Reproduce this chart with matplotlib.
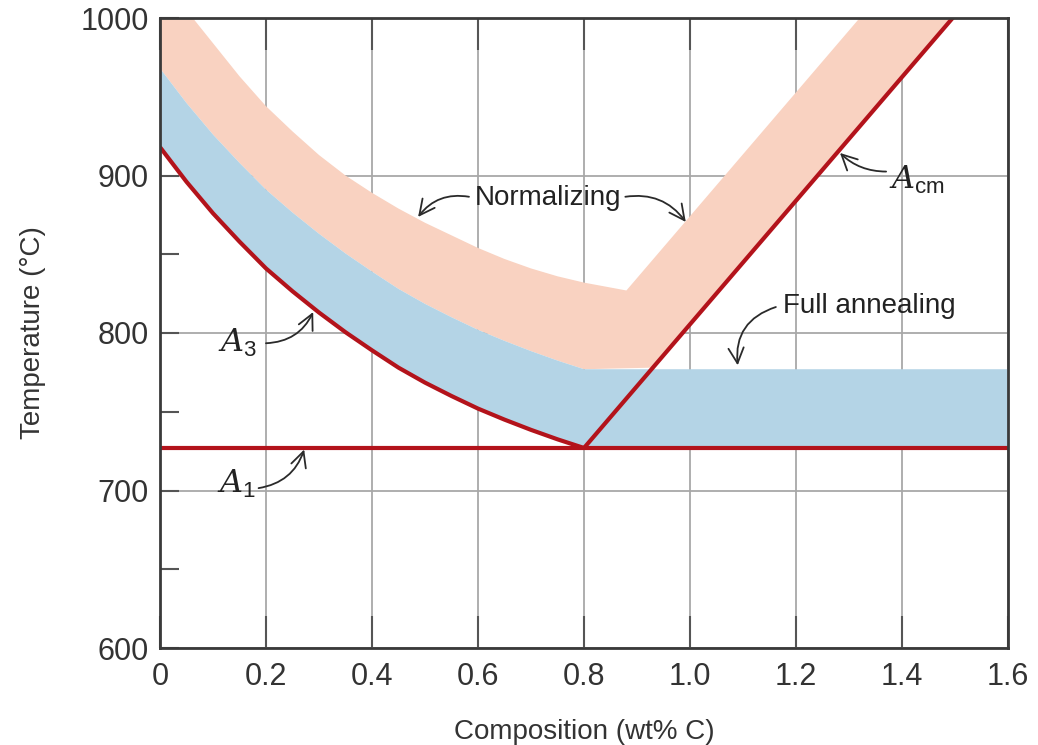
import numpy as np
import matplotlib
matplotlib.use("Agg")
import matplotlib.pyplot as plt
from matplotlib.ticker import MultipleLocator

# ---------------- data ----------------
# A3 line (wt% C, deg C)
a3_x = [0.0, 0.05, 0.1, 0.15, 0.2, 0.25, 0.3, 0.35, 0.4, 0.45, 0.5, 0.55, 0.6, 0.65, 0.7, 0.75, 0.8]
a3_T = [918, 896, 876, 858, 841, 826.5, 813, 800.5, 789, 778, 768.5, 760, 752, 745, 738.5, 732.5, 727]
# upper edge of full-annealing band (left part)
full_top_T = [968, 946, 926, 908, 891, 876.5, 863, 850.5, 839, 828, 818.5, 810, 802, 795, 788.5, 782.5, 777]
# full annealing band on the right (x, lower T, upper T)
full_right_x = [0.8, 1.6]
full_right_low = [727, 727]
full_right_high = [777, 777]
# A1 line
a1_x = [0.0, 1.6]
a1_T = [727, 727]
# Acm line
acm_x = [0.8, 1.6]
acm_T = [727, 1041]
# upper edge of normalizing band
norm_top_x = [0.0, 0.05, 0.1, 0.15, 0.2, 0.25, 0.3, 0.35, 0.4, 0.45, 0.5, 0.55, 0.6, 0.65, 0.7, 0.75, 0.8, 0.88, 1.6]
norm_top_T = [1028, 1005, 984, 963, 944, 928, 913, 900, 889, 879, 870, 862, 854, 847, 841, 836, 832, 827, 1110]
# lower edge of normalizing band on the right
norm_low_right_x = [0.8, 0.93, 1.6]
norm_low_right_T = [777, 778, 1041]

x_ticks = [0, 0.2, 0.4, 0.6, 0.8, 1.0, 1.2, 1.4, 1.6]
x_tick_labels = ["0", "0.2", "0.4", "0.6", "0.8", "1.0", "1.2", "1.4", "1.6"]
y_ticks = [600, 700, 800, 900, 1000]
y_tick_labels = ["600", "700", "800", "900", "1000"]

# ---------------- style ----------------
plt.rcParams['font.family'] = ['Liberation Sans', 'DejaVu Sans']
plt.rcParams['mathtext.fontset'] = 'custom'
plt.rcParams['mathtext.it'] = 'DejaVu Serif:italic'
plt.rcParams['mathtext.rm'] = 'Liberation Sans'
plt.rcParams['mathtext.default'] = 'it'

PINK = '#F9D2C1'
BLUE = '#B4D4E6'
RED = '#B3131B'
GRID = '#A8A8A8'
DARK = '#3A3A3A'

fig = plt.figure(figsize=(10.38, 7.45), dpi=100)
ax = fig.add_axes([160/1038, 1-648/745, 848/1038, 630/745])

# normalizing band (pink)
pink_top_x = np.array(norm_top_x)
pink_top_y = np.array(norm_top_T)
pink_low_x = np.concatenate([a3_x, norm_low_right_x[1:]])
pink_low_y = np.concatenate([full_top_T, norm_low_right_T[1:]])
ax.fill(np.concatenate([pink_top_x, pink_low_x[::-1]]),
        np.concatenate([pink_top_y, pink_low_y[::-1]]),
        color=PINK, lw=0, zorder=1)

# full annealing band (blue)
blue_top_x = np.concatenate([a3_x, full_right_x[1:]])
blue_top_y = np.concatenate([full_top_T, full_right_high[1:]])
blue_low_x = np.concatenate([a3_x, full_right_x[1:]])
blue_low_y = np.concatenate([a3_T, full_right_low[1:]])
ax.fill(np.concatenate([blue_top_x, blue_low_x[::-1]]),
        np.concatenate([blue_top_y, blue_low_y[::-1]]),
        color=BLUE, lw=0, zorder=1)

# lines
line_kw = dict(color=RED, lw=3, zorder=3, solid_capstyle='butt', solid_joinstyle='round')
ax.plot(a3_x, a3_T, **line_kw)
ax.plot(a1_x, a1_T, **line_kw)
ax.plot(acm_x, acm_T, **line_kw)

ax.set_xlim(0, 1.6)
ax.set_ylim(600, 1000)
ax.set_xticks(x_ticks)
ax.set_xticklabels(x_tick_labels)
ax.set_yticks(y_ticks)
ax.set_yticklabels(y_tick_labels)
ax.yaxis.set_minor_locator(MultipleLocator(50))

ax.grid(True, which='major', color=GRID, lw=1.3, zorder=0)
ax.set_axisbelow(True)
ax.tick_params(axis='x', which='major', direction='in', length=23, width=1.5,
               color='#555555', top=True, bottom=True, labelsize=22, pad=10,
               labelcolor='#333333')
ax.tick_params(axis='y', which='both', direction='in', length=14, width=1.5,
               color='#555555', left=True, right=False, labelsize=22, pad=8,
               labelcolor='#333333')
for s in ax.spines.values():
    s.set_color(DARK)
    s.set_linewidth(2)
    s.set_zorder(5)

ax.set_xlabel("Composition (wt% C)", fontsize=20, color='#333333')
ax.set_ylabel("Temperature (°C)", fontsize=20, color='#333333')
ax.xaxis.set_label_coords(0.5, -0.112)
ax.yaxis.set_label_coords(-0.135, 0.5)

# annotations
arrow_kw = dict(arrowstyle='->,head_length=0.5,head_width=0.25', color='#2a2a2a',
                lw=1.3, shrinkA=0, shrinkB=0, mutation_scale=22)
ax.text(0.732, 886, "Normalizing", fontsize=20, ha='center', va='center',
        color='#222222', zorder=6)
ax.annotate('', xy=(0.487, 873.7), xytext=(0.583, 886.5),
            arrowprops=dict(connectionstyle='arc3,rad=0.3', **arrow_kw), zorder=6)
ax.annotate('', xy=(0.992, 870.5), xytext=(0.878, 886.5),
            arrowprops=dict(connectionstyle='arc3,rad=-0.3', **arrow_kw), zorder=6)

ax.text(1.175, 817, "Full annealing", fontsize=20, ha='left', va='center',
        color='#222222', zorder=6)
ax.annotate('', xy=(1.09, 779.5), xytext=(1.162, 816.5),
            arrowprops=dict(connectionstyle='arc3,rad=0.4', **arrow_kw), zorder=6)

ax.text(0.11, 794, "$A_3$", fontsize=23, ha='left', va='center', color='#222222', zorder=6)
ax.annotate('', xy=(0.289, 813.3), xytext=(0.2, 793.5),
            arrowprops=dict(connectionstyle='arc3,rad=0.3', **arrow_kw), zorder=6)

ax.text(0.108, 704, "$A_1$", fontsize=23, ha='left', va='center', color='#222222', zorder=6)
ax.annotate('', xy=(0.272, 726), xytext=(0.186, 701.5),
            arrowprops=dict(connectionstyle='arc3,rad=0.3', **arrow_kw), zorder=6)

ax.text(1.375, 897, r"$A_{\mathrm{cm}}$", fontsize=23, ha='left', va='center', color='#222222', zorder=6)
ax.annotate('', xy=(1.283, 914.3), xytext=(1.37, 902.5),
            arrowprops=dict(connectionstyle='arc3,rad=-0.2', **arrow_kw), zorder=6)

fig.savefig("out.png", dpi=100)
